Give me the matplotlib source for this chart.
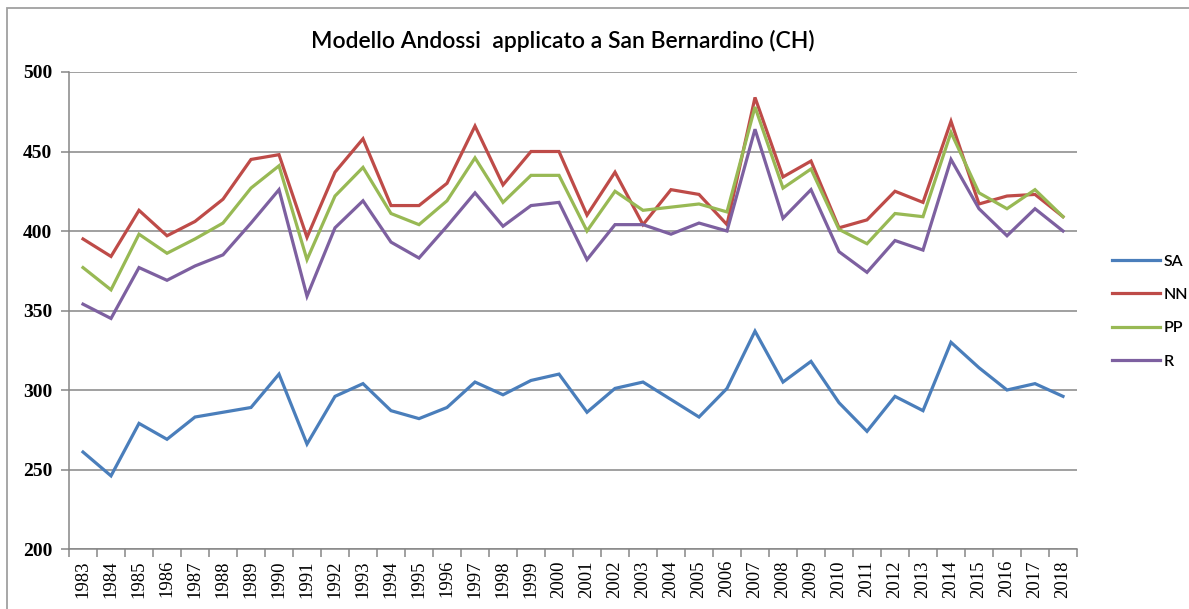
import matplotlib
matplotlib.use("Agg")
import matplotlib.pyplot as plt
from matplotlib.patches import Rectangle
import numpy as np

years = list(range(1983, 2019))
SA = [261, 246, 279, 269, 283, 286, 289, 310, 266, 296, 304, 287, 282, 289, 305, 297,
      306, 310, 286, 301, 305, 294, 283, 301, 337, 305, 318, 292, 274, 296, 287, 330,
      314, 300, 304, 296]
NN = [395, 384, 413, 397, 406, 420, 445, 448, 396, 437, 458, 416, 416, 430, 466, 429,
      450, 450, 410, 437, 404, 426, 423, 404, 484, 434, 444, 402, 407, 425, 418, 469,
      417, 422, 423, 409]
PP = [377, 363, 398, 386, 395, 405, 427, 441, 382, 422, 440, 411, 404, 419, 446, 418,
      435, 435, 400, 425, 413, 415, 417, 412, 478, 427, 439, 401, 392, 411, 409, 462,
      424, 414, 426, 409]
R = [354, 345, 377, 369, 378, 385, 405, 426, 359, 402, 419, 393, 383, 403, 424, 403,
     416, 418, 382, 404, 404, 398, 405, 400, 464, 408, 426, 387, 374, 394, 388, 445,
     414, 397, 414, 400]

series = [("SA", SA, "#4A7EBB"), ("NN", NN, "#BE4B48"), ("PP", PP, "#98B954"), ("R", R, "#7D60A0")]

W, H = 1189, 609
fig = plt.figure(figsize=(W / 100, H / 100), dpi=100)
fig.patch.set_facecolor("white")
# outer chart border
fig.patches.append(Rectangle((7 / W, -0.1), 1.2, 1 - 8 / H + 0.1, transform=fig.transFigure,
                             fill=False, edgecolor="#A0A0A0", linewidth=1.3))

ax = fig.add_axes([69 / W, 1 - 549 / H, (1077 - 69) / W, (549 - 72) / H])
x = np.arange(len(years))
lines = []
for name, vals, col in series:
    ln, = ax.plot(x, vals, color=col, linewidth=2.3, label=name, solid_joinstyle="miter")
    lines.append(ln)

ax.set_xlim(-0.5, len(years) - 0.5)
ax.set_ylim(200, 500)
ax.set_yticks(np.arange(200, 501, 50))
ax.yaxis.grid(True, color="#868686", linewidth=1.1)
ax.set_axisbelow(True)
for s in ["top", "right"]:
    ax.spines[s].set_visible(False)
for s in ["left", "bottom"]:
    ax.spines[s].set_color("#868686")
    ax.spines[s].set_linewidth(1.1)

ax.set_xticks(x)
ax.set_xticklabels([str(y) for y in years], rotation=90, family="Liberation Serif", fontsize=13.5)
ax.tick_params(axis="x", which="major", length=0, pad=8)
ax.set_xticks(np.arange(-0.5, len(years)), minor=True)
ax.tick_params(axis="x", which="minor", length=6, color="#868686", width=1.1)
ax.tick_params(axis="y", length=6, color="#868686", width=1.1, pad=6)
for lab in ax.get_yticklabels():
    lab.set_family("Liberation Serif")
    lab.set_fontweight("bold")
    lab.set_fontsize(14)

fig.text(0.5 * (311 + 815) / W, 1 - 41 / H, "Modello Andossi  applicato a San Bernardino (CH)",
         ha="center", va="center", fontsize=16.5, family="Lato", fontweight="semibold",
         color="black")

leg = fig.legend(handles=lines, loc="upper left", bbox_to_anchor=(1098 / W, 1 - 240 / H),
                 frameon=False, prop={"family": "Lato", "size": 11.5, "weight": "semibold"},
                 handlelength=3.0, handletextpad=0.2, labelspacing=1.2)

fig.savefig("out.png", dpi=100)
